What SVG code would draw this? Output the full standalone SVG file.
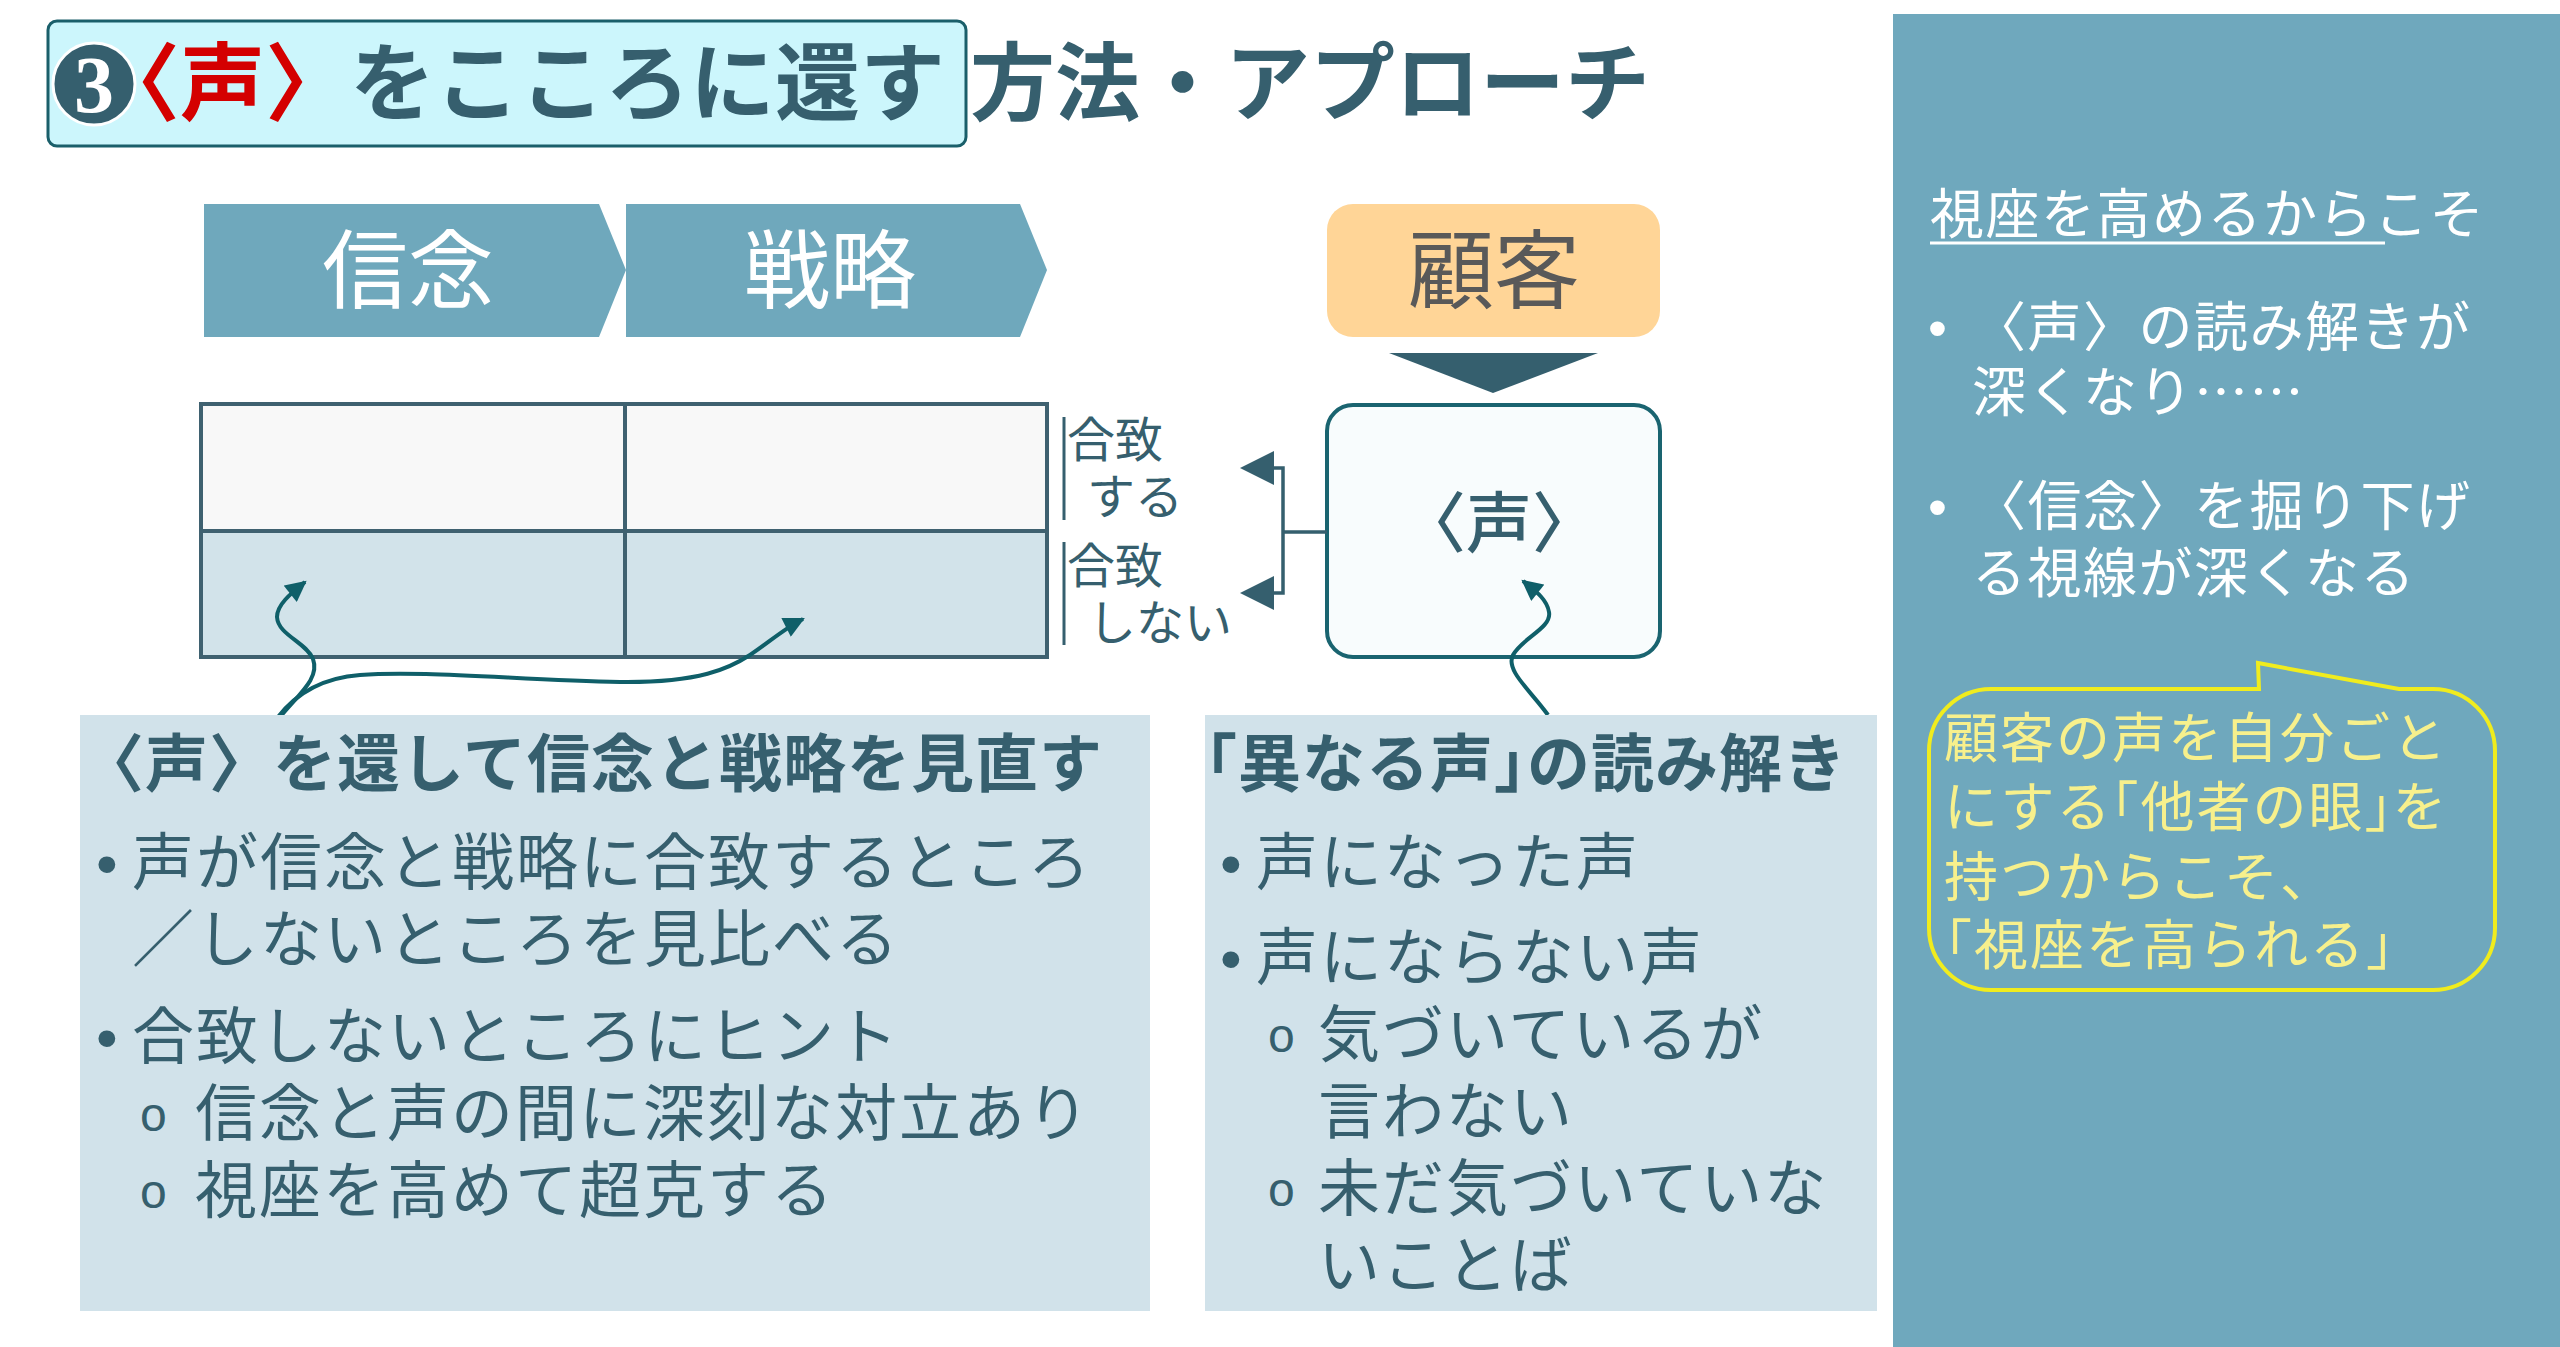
<svg xmlns="http://www.w3.org/2000/svg" width="2560" height="1347" viewBox="0 0 2560 1347">
<defs>
<style>
.jp{font-family:"Noto Sans CJK JP","Noto Sans CJK SC",sans-serif;}
.title{font-family:"Noto Sans CJK JP",sans-serif;font-weight:700;font-size:85px;fill:#365f6e;}
.chev{font-family:"Noto Sans CJK JP",sans-serif;font-weight:400;font-size:86px;fill:#ffffff;text-anchor:middle;}
.head{font-family:"Noto Sans CJK JP",sans-serif;font-weight:700;font-size:63px;fill:#365f6e;letter-spacing:1px;}
.body{font-family:"Noto Sans CJK JP",sans-serif;font-weight:400;font-size:62px;fill:#365f6e;letter-spacing:2px;}
.bul{font-family:"Liberation Sans",sans-serif;font-size:62px;fill:#365f6e;letter-spacing:0;}
.sub{font-family:"Liberation Mono",monospace;font-size:48px;fill:#365f6e;letter-spacing:0;}
.lbl{font-family:"Noto Sans CJK JP",sans-serif;font-weight:400;font-size:48px;fill:#365f6e;}
.side{font-family:"Noto Sans CJK JP",sans-serif;font-weight:400;font-size:54px;fill:#ffffff;letter-spacing:1.5px;}
.bub{font-family:"Noto Sans CJK JP",sans-serif;font-weight:400;font-size:54px;fill:#f7f08c;letter-spacing:2px;}
.conn{fill:none;stroke:#0f5f69;stroke-width:4;marker-end:url(#ah);}
.brk{fill:none;stroke:#355f6e;stroke-width:3.5;}
.box{fill:#d1e2ea;}
</style>
<marker id="ah" viewBox="0 0 20 20" markerWidth="22" markerHeight="21" refX="18" refY="10" markerUnits="userSpaceOnUse" orient="auto">
<path d="M0,0 L20,10 L0,20 z" fill="#0f5f69"/>
</marker>
</defs>
<rect width="2560" height="1347" fill="#ffffff"/>

<g id="title">
<rect x="48" y="21" width="918" height="125" rx="9" fill="#ccf6fc" stroke="#1a5f6a" stroke-width="3"/>
<circle cx="94" cy="84" r="41" fill="#355f6e" stroke="#ffffff" stroke-width="3"/>
<text x="94" y="112" text-anchor="middle" font-family="Liberation Serif, serif" font-weight="700" font-size="80" fill="#ffffff">3</text>
<text class="title" y="114"><tspan x="95" fill="#d40000">〈声〉</tspan><tspan>をこころに還す</tspan><tspan x="970">方法・アプローチ</tspan></text>
</g>

<g id="node-shinnen">
<path d="M204,204 L599,204 L626,270 L599,337 L204,337 Z" fill="#6fa8bc"/>
<text class="chev" x="408" y="302">信念</text>
</g>
<g id="node-senryaku">
<path d="M626,204 L1020,204 L1047,270 L1020,337 L626,337 Z" fill="#6fa8bc"/>
<text class="chev" x="830" y="302">戦略</text>
</g>
<g id="node-kokyaku">
<rect x="1327" y="204" width="333" height="133" rx="26" fill="#ffd597"/>
<text class="chev" x="1494" y="302" style="fill:#595959">顧客</text>
<path d="M1389,353 L1598,353 L1493,393 Z" fill="#355f6e"/>
</g>

<g id="table">
<rect x="201" y="404" width="846" height="127" fill="#f8f8f8"/>
<rect x="201" y="531" width="846" height="126" fill="#d2e3ea"/>
<rect x="201" y="404" width="846" height="253" fill="none" stroke="#3f6170" stroke-width="4"/>
<line x1="201" y1="531" x2="1047" y2="531" stroke="#3f6170" stroke-width="4"/>
<line x1="625" y1="404" x2="625" y2="657" stroke="#3f6170" stroke-width="4"/>
</g>

<g id="labels">
<line x1="1064" y1="417" x2="1064" y2="520" stroke="#355f6e" stroke-width="3"/>
<line x1="1064" y1="542" x2="1064" y2="645" stroke="#355f6e" stroke-width="3"/>
<text class="lbl" x="1067" y="457">合致</text>
<text class="lbl" x="1087" y="514">する</text>
<text class="lbl" x="1067" y="583">合致</text>
<text class="lbl" x="1088" y="640">しない</text>
</g>

<g id="node-koe">
<rect x="1327" y="405" width="333" height="252" rx="26" fill="#f8fcfd" stroke="#1a6470" stroke-width="4"/>
<text x="1499" y="547" text-anchor="middle" font-family="Noto Sans CJK JP, sans-serif" font-weight="500" font-size="66" fill="#365f6e">〈声〉</text>
</g>

<g id="connectors">
<path class="brk" d="M1327,532 L1283,532 M1272,468 L1283,468 L1283,593 L1272,593"/>
<path d="M1240,468 L1274,451 L1274,485 Z" fill="#355f6e"/>
<path d="M1240,593 L1274,576 L1274,610 Z" fill="#355f6e"/>
<path class="conn" d="M280,717 C300,693 320,678 313,659 C306,642 278,635 277,617 C277,605 290,594 305,582"/>
<path class="conn" d="M278,717 C295,695 320,678 360,675 C420,670 520,680 620,682 C700,683 730,668 750,655 C768,643 785,628 803,619"/>
<path class="conn" d="M1548,715 C1530,690 1505,670 1513,655 C1522,638 1552,628 1549,612 C1547,600 1538,593 1523,581"/>
</g>

<g id="box-left">
<rect class="box" x="80" y="715" width="1070" height="596"/>
<text class="head" x="81" y="786">〈声〉を還して信念と戦略を見直す</text>
<text class="body" y="885"><tspan class="bul" x="96">•</tspan><tspan x="132">声が信念と戦略に合致するところ</tspan></text>
<text class="body" x="132" y="962">／しないところを見比べる</text>
<text class="body" y="1059"><tspan class="bul" x="96">•</tspan><tspan x="132">合致しないところにヒント</tspan></text>
<text class="body" y="1136"><tspan class="sub" x="139" y="1131">o</tspan><tspan x="195" y="1136">信念と声の間に深刻な対立あり</tspan></text>
<text class="body" y="1213"><tspan class="sub" x="139" y="1208">o</tspan><tspan x="195" y="1213">視座を高めて超克する</tspan></text>
</g>

<g id="box-middle">
<rect class="box" x="1205" y="715" width="672" height="596"/>
<text class="head" x="1174" y="786">「異なる声」<tspan dx="-31">の読み解き</tspan></text>
<text class="body" y="885"><tspan class="bul" x="1220">•</tspan><tspan x="1256">声になった声</tspan></text>
<text class="body" y="980"><tspan class="bul" x="1220">•</tspan><tspan x="1256">声にならない声</tspan></text>
<text class="body" y="1057"><tspan class="sub" x="1267" y="1052">o</tspan><tspan x="1318" y="1057">気づいているが</tspan></text>
<text class="body" x="1318" y="1134">言わない</text>
<text class="body" y="1211"><tspan class="sub" x="1267" y="1206">o</tspan><tspan x="1318" y="1211">未だ気づいていな</tspan></text>
<text class="body" x="1318" y="1288">いことば</text>
</g>

<g id="panel-right">
<rect x="1893" y="14" width="667" height="1333" fill="#6fa8bd"/>
<text class="side" x="1930" y="234">視座を高めるからこそ</text>
<line x1="1930" y1="243" x2="2385" y2="243" stroke="#ffffff" stroke-width="3"/>
<text class="side" y="347"><tspan x="1928" font-family="Liberation Sans, sans-serif">•</tspan><tspan x="1972">〈声〉の読み解きが</tspan></text>
<text class="side" x="1972" y="412">深くなり……</text>
<text class="side" y="526"><tspan x="1928" font-family="Liberation Sans, sans-serif">•</tspan><tspan x="1972">〈信念〉を掘り下げ</tspan></text>
<text class="side" x="1972" y="593">る視線が深くなる</text>
</g>

<g id="bubble">
<path d="M1991,689 L2259,689 L2258,663 L2399,689 L2433,689 A62,62 0 0 1 2495,751 L2495,928 A62,62 0 0 1 2433,990 L1991,990 A62,62 0 0 1 1929,928 L1929,751 A62,62 0 0 1 1991,689 Z" fill="none" stroke="#f0ec1e" stroke-width="4"/>
<text class="bub" x="1944" y="758">顧客の声を自分ごと</text>
<text class="bub" x="1944" y="827">にする<tspan dx="-28">「他者の眼」</tspan><tspan dx="-28">を</tspan></text>
<text class="bub" x="1944" y="897">持つからこそ、</text>
<text class="bub" x="1918" y="965">「視座を高られる」</text>
</g>
</svg>
